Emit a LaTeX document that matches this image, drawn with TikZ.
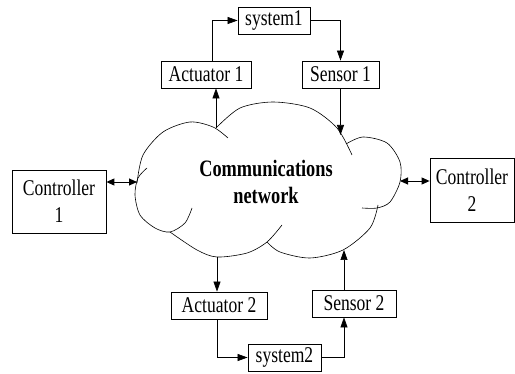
\documentclass[tikz,border=0pt]{standalone}
\usepackage{fontspec}
\setmainfont{Liberation Serif}[FakeStretch=0.78]
\usetikzlibrary{arrows.meta}
\begin{document}
\begin{tikzpicture}[x=1pt,y=-1pt,
  box/.style={draw, line width=0.8pt, inner sep=0pt, align=center,
    font=\fontsize{22.5}{27}\selectfont},
  arr/.style={-{Triangle[length=10pt,width=7pt]}, line width=0.7pt},
  dbl/.style={{Triangle[length=8pt,width=7pt]}-{Triangle[length=8pt,width=7pt]}, line width=0.9pt},
  cloudline/.style={line width=0.6pt},
  label/.style={align=center, inner sep=0pt, font=\fontsize{23.5}{27}\selectfont\bfseries}]
\useasboundingbox (0,0) rectangle (515,374);
% boxes
\node[box, minimum width=72pt, minimum height=27pt] (sys1) at (274,20.5) {system1};
\node[box, minimum width=90pt, minimum height=27pt] (act1) at (206,74.5) {Actuator 1};
\node[box, minimum width=77pt, minimum height=27pt] (sen1) at (340.5,74.5) {Sensor 1};
\node[box, minimum width=94pt, minimum height=63pt] (ctrl1) at (59,201.5) {Controller\\1};
\node[box, minimum width=84pt, minimum height=64pt] (ctrl2) at (472,190) {Controller\\2};
\node[box, minimum width=96pt, minimum height=27pt] (act2) at (219,305.5) {Actuator 2};
\node[box, minimum width=84pt, minimum height=27pt] (sen2) at (354,303.5) {Sensor 2};
\node[box, minimum width=73pt, minimum height=27pt] (sys2) at (284.5,357.5) {system2};
% cloud
\draw[cloudline] plot[smooth] coordinates {(137,183) (143,155) (163,132) (190,122) (213,127) (228,138)};
\draw[cloudline] plot[smooth] coordinates {(216,128) (240,108) (273,102) (310,108) (337,128) (352,155)};
\draw[cloudline] plot[smooth] coordinates {(346,144) (363,137) (387,143) (400,162) (400,182) (390,202) (377,208) (362,208)};
\draw[cloudline] plot[smooth] coordinates {(378,205) (370,228) (343,250) (310,258) (280,252) (267,242)};
\draw[cloudline] plot[smooth] coordinates {(170,232) (197,250) (217,257) (247,253) (267,242) (282,225)};
\draw[cloudline] plot[smooth] coordinates {(147,168) (138,178) (135,195) (140,215) (155,228) (170,232) (185,223) (192,208)};
\node[label] (net) at (266,182) {Communications\\network};
% junctions on the cloud
\coordinate (jA) at (216,128);
\coordinate (jB) at (341,135);
\coordinate (jL) at (137,182);
\coordinate (jR) at (400,181);
\coordinate (jE) at (217,257);
\coordinate (jD) at (344,250);
% connectors
\draw[arr] (jA) -- (jA |- act1.south);
\draw[arr] ([xshift=6pt]act1.north) |- (sys1.west);
\draw[arr] (sys1.east) -| (sen1.north);
\draw[arr] (sen1.south) -- (sen1.south |- jB);
\draw[dbl] (ctrl1.east |- jL) -- (jL);
\draw[dbl] (jR) -- (jR -| ctrl2.west);
\draw[arr] (jE) -- (jE |- act2.north);
\draw[arr] (act2.south -| jE) |- (sys2.west);
\draw[arr] (sys2.east) -| (jD |- sen2.south);
\draw[arr] (jD |- sen2.north) -- (jD);
\end{tikzpicture}
\end{document}
